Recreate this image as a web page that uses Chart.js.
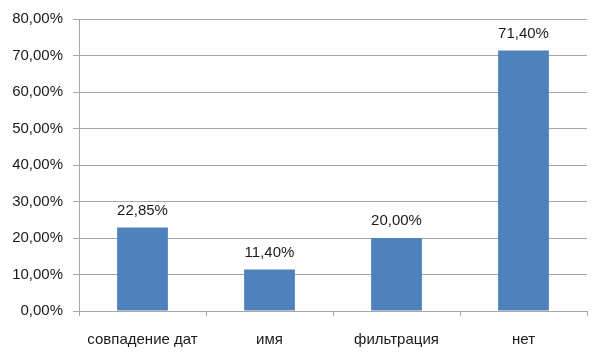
<!DOCTYPE html>
<html><head><meta charset="utf-8">
<script src="https://cdn.jsdelivr.net/npm/chart.js@4"></script>
<style>html,body{margin:0;padding:0;background:#fff}#w{width:600px;height:356px}</style>
</head><body><div id="w"><canvas id="c" width="600" height="356"></canvas></div>
<script>
const categories = ["совпадение дат", "имя", "фильтрация", "нет"];
const values = [22.85, 11.40, 20.00, 71.40];
const yTicks = [0, 10, 20, 30, 40, 50, 60, 70, 80];

const fmt = v => v.toFixed(2).replace('.', ',') + '%';
const FONT = "'Liberation Sans', Arial, sans-serif";
const GRID = '#a6a6a6';

const labelPlugin = {
  id: 'lbl',
  afterDatasetsDraw(chart) {
    const ctx = chart.ctx;
    const meta = chart.getDatasetMeta(0);
    ctx.save();
    ctx.font = "15px " + FONT;
    ctx.fillStyle = '#1a1a1a';
    ctx.textAlign = 'center';
    ctx.textBaseline = 'middle';
    meta.data.forEach((bar, i) => {
      ctx.fillText(fmt(values[i]), bar.x, bar.y - 17);
    });
    ctx.restore();
  }
};

new Chart(document.getElementById('c'), {
  type: 'bar',
  data: {
    labels: categories,
    datasets: [{
      data: values,
      backgroundColor: '#4f81bd',
      borderWidth: 0,
      barPercentage: 0.4,
      categoryPercentage: 1.0
    }]
  },
  options: {
    responsive: false,
    animation: false,
    layout: { padding: { left: 0, right: 13, top: 17, bottom: 0 } },
    plugins: { legend: { display: false }, tooltip: { enabled: false } },
    scales: {
      x: {
        grid: { drawOnChartArea: false, drawTicks: true, tickLength: 5, color: GRID, offset: true },
        border: { display: true, color: GRID, width: 1 },
        ticks: { color: '#1a1a1a', font: { family: FONT, size: 15 }, padding: 15, maxRotation: 0 },
        afterFit: s => { s.height = 45; }
      },
      y: {
        min: 0, max: 80,
        afterBuildTicks: s => { s.ticks = yTicks.map(v => ({ value: v })); },
        grid: { color: GRID, tickLength: 6, drawTicks: true },
        border: { display: true, color: GRID, width: 1 },
        ticks: { color: '#1a1a1a', font: { family: FONT, size: 15 }, padding: 10, callback: v => fmt(v) },
        afterFit: s => { s.width = 79; }
      }
    }
  },
  plugins: [labelPlugin]
});
</script></body></html>
